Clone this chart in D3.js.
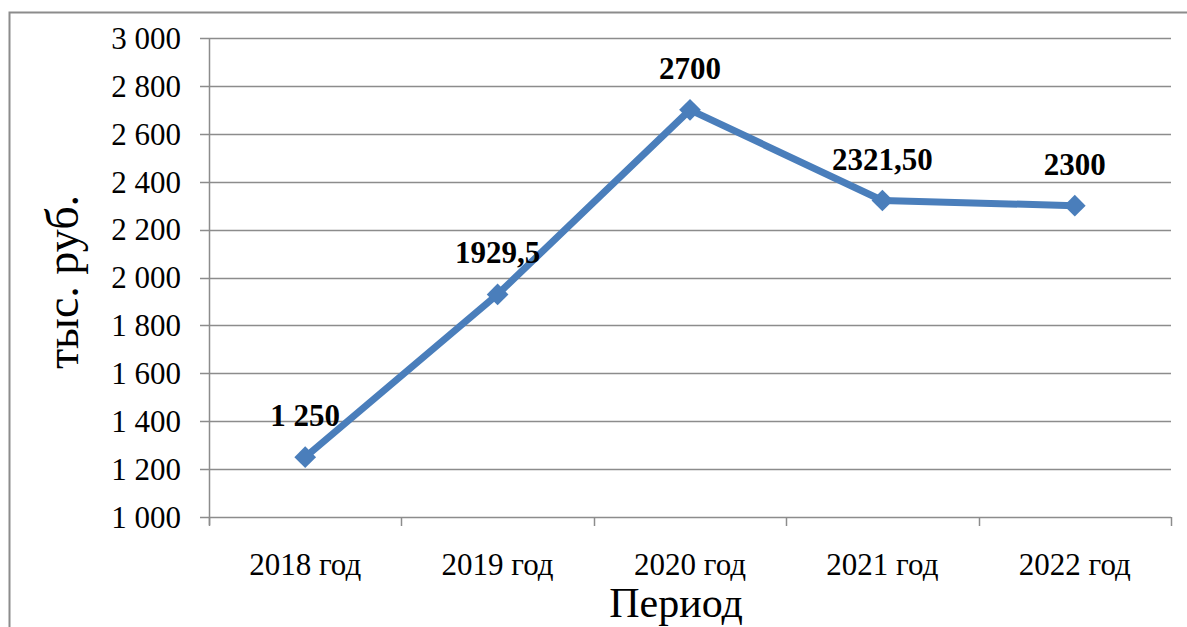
<!DOCTYPE html>
<html lang="ru">
<head>
<meta charset="UTF-8" />
<title>D3</title>
<style>
  body { margin: 0; background: #fff; }
  text { font-family: "Liberation Serif", "Times New Roman", serif; }
</style>
</head>
<body>
<script src="https://d3js.org/d3.v7.min.js"></script>
<script>
var categories = ["2018 год", "2019 год", "2020 год", "2021 год", "2022 год"];
var values = [1250, 1929.5, 2700, 2321.5, 2300];
var valueLabels = ["1 250", "1929,5", "2700", "2321,50", "2300"];
var yTicks = [1000, 1200, 1400, 1600, 1800, 2000, 2200, 2400, 2600, 2800, 3000];

var width = 1187, height = 627;
var margin = {left: 209, right: 16, top: 38, bottom: 110};

var svg = d3.select("body").append("svg")
  .attr("width", width)
  .attr("height", height);

// outer frame (runs off the right and bottom edges)
svg.append("rect")
  .attr("x", 9.5).attr("y", 12.5)
  .attr("width", 1300).attr("height", 800)
  .attr("fill", "none")
  .attr("stroke", "#8c8c8c")
  .attr("stroke-width", 2);

var x = d3.scaleBand()
  .domain(categories)
  .range([margin.left, width - margin.right]);

var y = d3.scaleLinear()
  .domain([1000, 3000])
  .range([height - margin.bottom, margin.top]);

var gridColor = "#8c8c8c";

// horizontal gridlines
svg.append("g").selectAll("line")
  .data(yTicks)
  .enter().append("line")
  .attr("x1", margin.left - 9)
  .attr("x2", width - margin.right)
  .attr("y1", function(d) { return Math.round(y(d)) + 0.5; })
  .attr("y2", function(d) { return Math.round(y(d)) + 0.5; })
  .attr("stroke", gridColor)
  .attr("stroke-width", 1.5);

// y axis line
svg.append("line")
  .attr("x1", margin.left + 0.5).attr("x2", margin.left + 0.5)
  .attr("y1", y(3000)).attr("y2", y(1000) + 8)
  .attr("stroke", gridColor).attr("stroke-width", 1.5);

// y tick labels
svg.append("g").selectAll("text")
  .data(yTicks)
  .enter().append("text")
  .attr("x", 181)
  .attr("y", function(d) { return y(d); })
  .attr("dy", "0.35em")
  .attr("text-anchor", "end")
  .attr("font-size", 31)
  .text(function(d) { return d3.format(",")(d).replace(",", " "); });

// category ticks
var bounds = categories.map(function(c) { return x(c); }).concat([width - margin.right]);
svg.append("g").selectAll("line")
  .data(bounds)
  .enter().append("line")
  .attr("x1", function(d) { return Math.round(d) + 0.5; })
  .attr("x2", function(d) { return Math.round(d) + 0.5; })
  .attr("y1", y(1000))
  .attr("y2", y(1000) + 9)
  .attr("stroke", gridColor).attr("stroke-width", 1.5);

// category labels
svg.append("g").selectAll("text")
  .data(categories)
  .enter().append("text")
  .attr("x", function(d) { return x(d) + x.bandwidth() / 2; })
  .attr("y", 575)
  .attr("text-anchor", "middle")
  .attr("font-size", 31)
  .text(function(d) { return d; });

// axis titles
svg.append("text")
  .attr("x", 676)
  .attr("y", 617)
  .attr("text-anchor", "middle")
  .attr("font-size", 42)
  .text("Период");

svg.append("text")
  .attr("transform", "translate(78,282) rotate(-90)")
  .attr("text-anchor", "middle")
  .attr("font-size", 46)
  .text("тыс. руб.");

// series line
var pts = values.map(function(v, i) {
  return {x: x(categories[i]) + x.bandwidth() / 2, y: y(v), label: valueLabels[i]};
});

svg.append("path")
  .datum(pts)
  .attr("d", d3.line().x(function(d) { return d.x; }).y(function(d) { return d.y; }))
  .attr("fill", "none")
  .attr("stroke", "#4a7ebb")
  .attr("stroke-width", 7)
  .attr("stroke-linejoin", "round");

// diamond markers
svg.append("g").selectAll("path")
  .data(pts)
  .enter().append("path")
  .attr("transform", function(d) { return "translate(" + d.x + "," + d.y + ")"; })
  .attr("d", d3.symbol().type(d3.symbolDiamond2).size(300))
  .attr("fill", "#4a7ebb");

// data labels
svg.append("g").selectAll("text")
  .data(pts)
  .enter().append("text")
  .attr("x", function(d) { return d.x; })
  .attr("y", function(d) { return d.y - 31; })
  .attr("text-anchor", "middle")
  .attr("font-size", 31)
  .attr("font-weight", "bold")
  .text(function(d) { return d.label; });
</script>
</body>
</html>
